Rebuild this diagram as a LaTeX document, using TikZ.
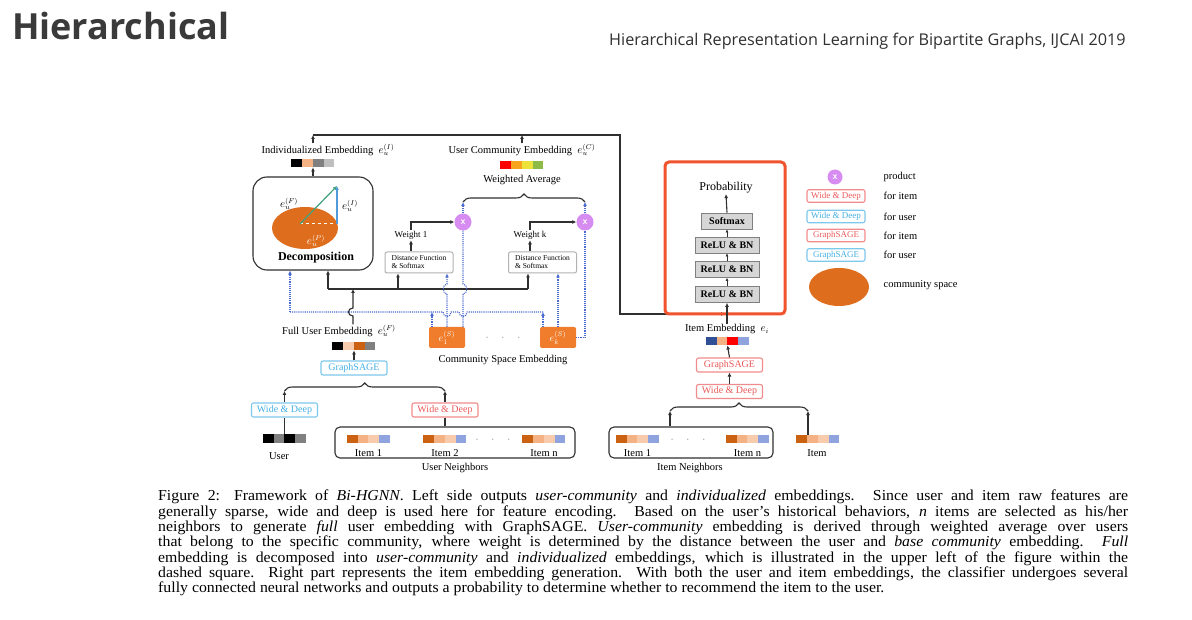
\documentclass[tikz,border=0pt]{standalone}
\usepackage{fontspec}
\setmainfont{Liberation Serif}
\newfontfamily\headfont{Open Sans}
\newfontfamily\capfont[FakeStretch=1.04,Ligatures=TeX]{Liberation Serif}
\usepackage{xcolor}
\definecolor{TitleGray}{HTML}{3A3A3A}
\definecolor{InkGray}{HTML}{303030}
\definecolor{UserBlue}{HTML}{45B0E6}
\definecolor{ItemRed}{HTML}{EC5A5A}
\definecolor{CommOrange}{HTML}{DE6E1E}
\definecolor{BoxOrange}{HTML}{EF7D2C}
\definecolor{ProdPurple}{HTML}{D68CF0}
\definecolor{DotBlue}{HTML}{4A6CD0}
\definecolor{ClsRed}{HTML}{F0532E}
\definecolor{LayerGray}{HTML}{D6D6D6}
\definecolor{Peach}{HTML}{F4B183}
\definecolor{PalePeach}{HTML}{F8CBAD}
\definecolor{DarkOrange}{HTML}{CB6212}
\definecolor{Lavender}{HTML}{8FA3DE}
\definecolor{NavyBlue}{HTML}{2F4F96}
\definecolor{VecGreen}{HTML}{43A27C}
\definecolor{VecBlue}{HTML}{4F9AD8}
\definecolor{CommYellow}{HTML}{EDE23A}
\definecolor{CommGreen}{HTML}{8DBB45}
\definecolor{CommAmber}{HTML}{F7A51E}
\usepackage{tikz}
\usetikzlibrary{positioning,calc,arrows.meta,decorations.pathreplacing}

% embedding bar: name, centre, four colours
\newcommand\embbar[3]{%
  \node[minimum width=43pt,minimum height=8.5pt,inner sep=0pt] (#1) at (#2) {};
  \foreach \col [count=\k] in {#3}
    \fill[\col] ($(#1.north west)+({(\k-1)*10.75},0)$) rectangle ($(#1.south west)+({\k*10.75},0)$);
}

\begin{document}
\begin{tikzpicture}[x=1pt,y=-1pt,
  lbl/.style={font=\fontsize{10.5}{11}\selectfont,inner sep=0.5pt},
  small/.style={font=\fontsize{9}{9}\selectfont,inner sep=1pt},
  arr/.style={-{Latex[length=4pt,width=4pt]},line width=1.1pt,InkGray},
  link/.style={line width=1.1pt,InkGray},
  dots/.style={densely dotted,line width=1.1pt,DotBlue},
  dotarr/.style={dots,-{Latex[length=4pt,width=4pt]}},
  userbox/.style={draw=UserBlue!70,text=UserBlue,line width=1.1pt,rounded corners=2pt,minimum width=66pt,minimum height=14pt,inner sep=0pt,font=\fontsize{10}{10}\selectfont},
  itembox/.style={userbox,draw=ItemRed!70,text=ItemRed},
  layer/.style={draw=gray,fill=LayerGray,line width=0.8pt,minimum height=16pt,inner sep=0pt,font=\bfseries\fontsize{10}{10}\selectfont},
  distbox/.style={draw=gray!60,line width=1pt,rounded corners=2pt,minimum width=68pt,minimum height=21pt,align=left,inner sep=1pt,font=\fontsize{7.5}{8}\selectfont},
  prod/.style={circle,fill=ProdPurple,minimum size=17pt,inner sep=0pt,text=white,font=\sffamily\bfseries},
  comm/.style={fill=BoxOrange,rounded corners=2pt,minimum width=36pt,minimum height=21pt,inner sep=0pt,text=white,font=\fontsize{10}{10}\selectfont},
  group/.style={draw=InkGray,line width=1.1pt,rounded corners=5pt},
  brace/.style={decorate,decoration={brace,amplitude=8pt},line width=1.1pt,InkGray}]
\useasboundingbox (0,0) rectangle (1192,620);
\fill[white] (0,0) rectangle (1192,620);

% header
\node[anchor=base west,inner sep=0pt,text=TitleGray,font=\headfont\bfseries\fontsize{36}{38}\selectfont] (title) at (12,40) {Hierarchical};
\node[anchor=base west,inner sep=0pt,text=InkGray,font=\headfont\fontsize{16.2}{16}\selectfont] (paper) at (609,46) {Hierarchical Representation Learning for Bipartite Graphs, IJCAI 2019};

% decomposition
\node[group,rounded corners=14pt,minimum width=120pt,minimum height=93pt] (dec) at (313,223.5) {};
\fill[CommOrange] (305,228) ellipse [x radius=33, y radius=21];
\coordinate (vo) at (300,224);
\coordinate (vt) at (337,186);
\coordinate (vf) at (337,224);
\draw[white,dashed,line width=1pt] (vo) -- (vf);
\draw[VecGreen,line width=1.2pt,-{Latex[length=4pt,width=4pt]}] (vo) -- (vt);
\draw[VecBlue,line width=1.2pt,-{Latex[length=4pt,width=4pt]}] (vf) -- (vt);
\node[lbl] (eF) at (289,204) {$e_u^{(F)}$};
\node[lbl] (eI) at (350,206) {$e_u^{(I)}$};
\node[lbl,text=white] (eP) at (316,241) {$e_u^{(P)}$};
\node[font=\bfseries\fontsize{12}{12}\selectfont] (dectxt) at (316,258) {Decomposition};

% output embeddings
\embbar{ibar}{313,163}{black,Peach,gray,gray!50}
\node[lbl] (ilab) at (328,150) {Individualized Embedding\enspace$e_u^{(I)}$};
\embbar{cbar}{522,165}{red,CommAmber,CommYellow,CommGreen}
\node[lbl] (clab) at (522,150) {User Community Embedding\enspace$e_u^{(C)}$};
\node[lbl] (wavg) at (522,180) {Weighted Average};
\draw[arr] (dec.north) -- (ibar.south);

\coordinate (topI) at (313,135);
\coordinate (topC) at (522,135);
\coordinate (topR) at (620,135);
\coordinate (join) at (725,314);
\draw[arr] (ilab.north -| topI) -- (topI);
\draw[arr] (clab.north -| topC) -- (topC);
\draw[arr] (topI) -- (topR) |- (join);

% weights
\node[prod] (p1) at (463,222) {x};
\node[prod] (p2) at (585,222) {x};
\node[small] (w1) at (411,235) {Weight 1};
\node[small] (wk) at (530,235) {Weight k};
\node[distbox] (d1) at (419,262.5) {Distance Function\\ \& Softmax};
\node[distbox] (d2) at (542.5,262.5) {Distance Function\\ \& Softmax};
\draw[arr] (d1.north -| w1) -- (w1.south);
\draw[arr] (d2.north -| wk) -- (wk.south);
\draw[arr] (w1.north) |- (p1.west);
\draw[arr] (wk.north) |- (p2.west);
\coordinate (bL) at (463,202);
\coordinate (bR) at (585,202);
\draw[brace] (bL) -- (bR);
\draw[dotarr] (p1.north) -- (bL);
\draw[dotarr] (p2.north) -- (bR);

% community space
\node[comm] (e1) at (447,337.5) {$e_1^{(S)}$};
\node[comm] (ek) at (558,337.5) {$e_k^{(S)}$};
\node[lbl,text=gray] (cdots) at (503,338) {$\cdot\quad\cdot\quad\cdot$};
\node[lbl] (cslab) at (503,360) {Community Space Embedding};

% full user embedding bus
\coordinate (busL) at (328,289);
\coordinate (busD) at (398,289);
\coordinate (busR) at (528,289);
\coordinate (busF) at (353,289);
\draw[link] (busL) -- (busR);
\draw[arr] (busL) -- (busL |- dec.south);
\draw[arr] (busD) -- (busD |- d1.south);
\draw[arr] (busR) -- (busR |- d2.south);

% community bus (dotted)
\coordinate (dbL) at (290,312);
\coordinate (dbA) at (432,312);
\coordinate (dbR) at (543,312);
\draw[dots] (dbL) -- (443,312) .. controls (443,318) and (451,318) .. (451,312) -- (459,312) .. controls (459,318) and (467,318) .. (467,312) -- (dbR);
\draw[dotarr] (dbL) -- (dbL |- dec.south);
\draw[dotarr] (e1.north -| dbA) -- (dbA);
\draw[dotarr] (ek.north -| dbR) -- (dbR);
\draw[dotarr] (e1.north) -- (447,294) .. controls (442,294) and (442,284) .. (447,284) -- (d1.south -| e1.north);
\draw[dots] (e1.north -| p1.south) -- (463,294) .. controls (468,294) and (468,284) .. (463,284) -- (p1.south);
\draw[dotarr] (ek.north) -- (d2.south -| ek.north);
\draw[dots] (ek.east) -| (p2.south);

% user side
\node[lbl] (fulab) at (339,331) {Full User Embedding\enspace$e_u^{(F)}$};
\embbar{fbar}{354,346}{black,PalePeach,DarkOrange,gray}
\draw[arr] (fulab.north -| busF) -- (353,316) .. controls (347,316) and (347,308) .. (353,308) -- (busF);
\node[userbox] (ugs) at (354,368) {GraphSAGE};
\draw[arr] (ugs.north) -- (fbar.south);
\coordinate (ubL) at (284.5,391);
\coordinate (ubR) at (445,391);
\draw[brace] (ubL) -- (ubR);
\node[userbox] (uwd) at (284.5,410) {Wide \& Deep};
\node[itembox] (iwd) at (445,410) {Wide \& Deep};
\draw[arr] (uwd.north) -- (ubL);
\draw[arr] (iwd.north) -- (ubR);
\embbar{ubar}{284.5,438.5}{black,gray,black,gray}
\node[lbl] (ulab) at (279,456) {User};
\draw[link] (ubar.north) -- (uwd.south);
\node[group,minimum width=240pt,minimum height=31pt] (unb) at (455,442.5) {};
\draw[link] (unb.north -| iwd) -- (iwd.south);
\foreach \n/\x/\t in {ua/368.5/{Item 1}, ub/445/{Item 2}, un/544/{Item n}} {
  \embbar{\n}{\x,439}{DarkOrange,Peach,PalePeach,Lavender}
  \node[lbl] (\n lab) at (\x,453) {\t};
}
\node[lbl,text=gray] (udots) at (493,440) {$\cdot\quad\cdot\quad\cdot$};
\node[lbl] (unlab) at (455,468) {User Neighbors};

% classifier
\node[draw=ClsRed,line width=3pt,rounded corners=4pt,minimum width=120pt,minimum height=152pt] (cls) at (725,238) {};
\node[lbl,font=\fontsize{12}{12}\selectfont] (prob) at (726,188) {Probability};
\foreach \n/\t/\y/\w in {smax/Softmax/221/51, relu1/{ReLU \& BN}/245/64, relu2/{ReLU \& BN}/269.5/64, relu3/{ReLU \& BN}/294.5/64}
  \node[layer,minimum width=\w pt] (\n) at (727,\y) {\t};
\draw[arr] (smax.north) -- (prob.south);
\draw[-{Latex[length=3pt,width=3pt]},line width=0.8pt,InkGray] (relu1.north) -- (smax.south);
\draw[-{Latex[length=3pt,width=3pt]},line width=0.8pt,InkGray] (relu2.north) -- (relu1.south);
\draw[-{Latex[length=3pt,width=3pt]},line width=0.8pt,InkGray] (relu3.north) -- (relu2.south);

% item side
\node[lbl] (ielab) at (727,329) {Item Embedding\enspace$e_i$};
\draw[arr] (ielab.north) -- (relu3.south);
\embbar{iebar}{727.5,341}{NavyBlue,Peach,red,Lavender}
\node[itembox] (igs) at (729.5,365) {GraphSAGE};
\node[itembox] (iwd2) at (729.5,391.5) {Wide \& Deep};
\draw[arr] (igs.north) -- (iebar.south);
\draw[arr] (iwd2.north) -- (igs.south);
\coordinate (ibL) at (670,411);
\coordinate (ibR) at (808,411);
\draw[brace] (ibL) -- (ibR);
\node[group,minimum width=164pt,minimum height=31pt] (inb) at (691,442.5) {};
\draw[arr] (inb.north -| ibL) -- (ibL);
\foreach \n/\x/\t in {ia/637.5/{Item 1}, in/747.5/{Item n}} {
  \embbar{\n}{\x,439}{DarkOrange,Peach,PalePeach,Lavender}
  \node[lbl] (\n lab) at (\x,453) {\t};
}
\node[lbl,text=gray] (idots) at (688,440) {$\cdot\quad\cdot\quad\cdot$};
\node[lbl] (inlab) at (690,468) {Item Neighbors};
\embbar{itbar}{818,439}{DarkOrange,Peach,PalePeach,Lavender}
\node[lbl] (itlab) at (817,453) {Item};
\draw[arr] (itbar.north -| ibR) -- (ibR);

% legend
\node[prod,minimum size=15pt] (lgprod) at (835,177) {x};
\node[lbl,anchor=west] (lgprodt) at (883,177) {product};
\foreach \n/\c/\t/\u/\y in {lga/ItemRed/{Wide \& Deep}/{for item}/196, lgb/UserBlue/{Wide \& Deep}/{for user}/216.5, lgc/ItemRed/GraphSAGE/{for item}/235.5, lgd/UserBlue/GraphSAGE/{for user}/255} {
  \node[userbox,draw=\c!70,text=\c,minimum width=58pt,minimum height=12.5pt,font=\fontsize{9}{9}\selectfont] (\n) at (836,\y) {\t};
  \node[lbl,anchor=west] (\n t) at (883,\y) {\u};
}
\fill[CommOrange] (839,287) ellipse [x radius=30, y radius=19];
\node[lbl,anchor=west] (lgcs) at (883,285) {community space};

% caption
\node[anchor=north west,text width=970pt,align=justify,inner sep=0pt,font=\capfont\fontsize{15.2}{15.3}\selectfont] (cap) at (158,490) {Figure 2: Framework of \emph{Bi-HGNN}. Left side outputs \emph{user-community} and \emph{individualized} embeddings. Since user and item raw features are\linebreak generally sparse, wide and deep is used here for feature encoding. Based on the user's historical behaviors, \emph{n} items are selected as his/her\linebreak neighbors to generate \emph{full} user embedding with GraphSAGE. \emph{User-community} embedding is derived through weighted average over users\linebreak that belong to the specific community, where weight is determined by the distance between the user and \emph{base community} embedding. \emph{Full}\linebreak embedding is decomposed into \emph{user-community} and \emph{individualized} embeddings, which is illustrated in the upper left of the figure within the\linebreak dashed square. Right part represents the item embedding generation. With both the user and item embeddings, the classifier undergoes several\linebreak fully connected neural networks and outputs a probability to determine whether to recommend the item to the user.};
\end{tikzpicture}
\end{document}
